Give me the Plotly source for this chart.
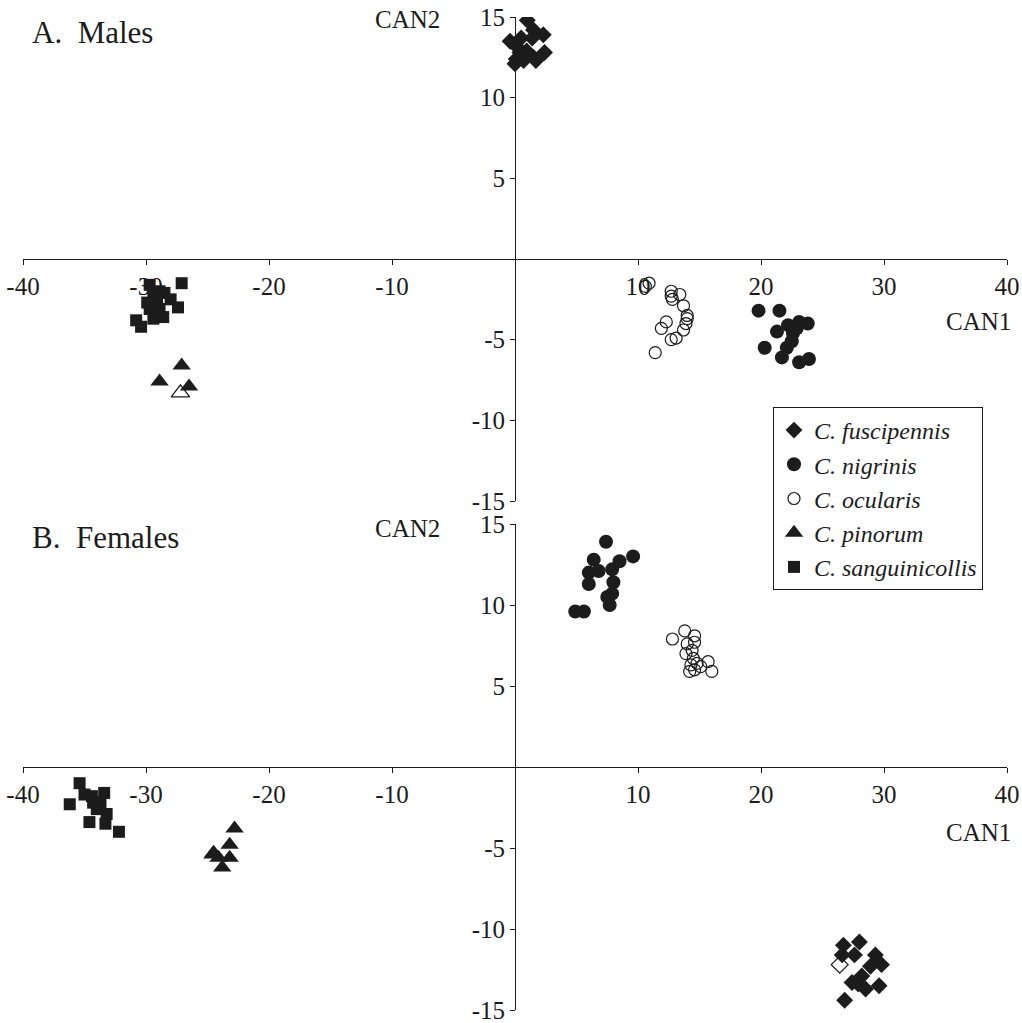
import plotly.graph_objects as go

# ---------------- DATA ----------------
species = ["C. fuscipennis", "C. nigrinis", "C. ocularis", "C. pinorum", "C. sanguinicollis"]

# Males (panel A)
m_fusc_x = [1.0, -0.4, 0.5, 1.5, 2.3, 1.4, 0.1, 0.4, 0.95, 2.4, 0.1, 0.7, 1.5, 0.0, 1.7]
m_fusc_y = [14.8, 13.5, 13.7, 14.2, 13.9, 13.7, 13.2, 12.8, 12.9, 12.8, 12.4, 12.3, 12.5, 12.1, 12.3]
m_nigr_x = [19.8, 21.5, 22.2, 23.1, 23.8, 21.3, 22.6, 22.5, 22.1, 20.3, 21.7, 23.1, 23.9, 22.9]
m_nigr_y = [-3.2, -3.2, -4.1, -3.9, -4.0, -4.5, -4.6, -5.1, -5.5, -5.5, -6.1, -6.4, -6.2, -4.3]
m_ocul_x = [10.9, 10.6, 12.7, 13.4, 12.7, 12.8, 13.7, 14.0, 14.0, 13.9, 12.3, 11.9, 13.7, 12.7, 13.1, 11.4]
m_ocul_y = [-1.5, -1.7, -2.0, -2.2, -2.3, -2.5, -2.9, -3.5, -3.7, -4.0, -3.9, -4.3, -4.4, -5.0, -4.9, -5.8]
m_pino_x = [-27.1, -28.9, -26.5]
m_pino_y = [-6.6, -7.6, -7.9]
m_pino_open_x = [-27.2]
m_pino_open_y = [-8.3]
m_sang_x = [-29.7, -28.9, -28.5, -29.4, -29.9, -29.1, -28.0, -27.4, -29.7, -28.9, -28.6, -29.4, -30.8, -30.4, -27.1]
m_sang_y = [-1.6, -2.0, -2.1, -2.3, -2.7, -2.6, -2.5, -3.0, -3.1, -3.1, -3.6, -3.7, -3.8, -4.2, -1.5]

# Females (panel B)
f_fusc_x = [26.7, 28.0, 26.6, 27.6, 29.3, 29.8, 28.9, 27.4, 27.9, 28.5, 29.6, 26.8, 28.2]
f_fusc_y = [-11.0, -10.8, -11.6, -11.6, -11.6, -12.2, -12.3, -13.3, -13.4, -13.7, -13.5, -14.4, -12.9]
f_fusc_open_x = [26.4]
f_fusc_open_y = [-12.2]
f_nigr_x = [7.4, 6.4, 9.6, 8.5, 6.8, 6.0, 7.9, 8.0, 6.0, 7.9, 7.5, 7.7, 4.9, 5.6]
f_nigr_y = [13.9, 12.8, 13.0, 12.7, 12.1, 12.0, 12.2, 11.4, 11.3, 10.7, 10.5, 10.0, 9.6, 9.6]
f_ocul_x = [12.8, 13.8, 14.6, 14.0, 14.6, 14.4, 13.9, 15.7, 14.3, 14.8, 14.2, 14.6, 15.1, 16.0, 14.5]
f_ocul_y = [7.9, 8.4, 8.1, 7.6, 7.7, 7.2, 7.0, 6.5, 6.3, 6.4, 5.9, 6.0, 6.2, 5.9, 6.7]
f_pino_x = [-22.8, -23.2, -24.5, -24.6, -23.8, -23.2, -24.1]
f_pino_y = [-3.8, -4.8, -5.3, -5.4, -6.2, -5.6, -5.6]
f_sang_x = [-35.4, -36.2, -35.0, -34.4, -33.4, -34.3, -33.7, -33.2, -34.6, -33.3, -32.2, -34.0]
f_sang_y = [-1.0, -2.3, -1.7, -1.8, -1.6, -2.2, -2.2, -2.9, -3.4, -3.5, -4.0, -2.6]

x_ticks = [-40, -30, -20, -10, 0, 10, 20, 30, 40]
x_ticktext = ["-40", "-30", "-20", "-10", "", "10", "20", "30", "40"]
y_ticks = [-15, -10, -5, 0, 5, 10, 15]
y_ticktext = ["-15", "-10", "-5", "", "5", "10", "15"]

# ---------------- STYLE ----------------
INK = "#1c1c1c"
FONT = "Liberation Serif, Times New Roman, serif"
W, H = 1022, 1023

styles = {
    "C. fuscipennis": dict(symbol="diamond", size=13, color=INK),
    "C. nigrinis": dict(symbol="circle", size=14, color=INK),
    "C. ocularis": dict(symbol="circle-open", size=12, color=INK, line=dict(width=1.2, color=INK)),
    "C. pinorum": dict(symbol="triangle-up", size=16, color=INK),
    "C. sanguinicollis": dict(symbol="square", size=12, color=INK),
}

fig = go.Figure()

def add(x, y, name, xa, ya, legend):
    fig.add_trace(go.Scatter(
        x=x, y=y, mode="markers", name="<i>" + name + "</i>",
        legendgroup=name, showlegend=legend,
        marker=styles[name], xaxis=xa, yaxis=ya,
    ))

male = [(m_fusc_x, m_fusc_y), (m_nigr_x, m_nigr_y), (m_ocul_x, m_ocul_y), (m_pino_x, m_pino_y), (m_sang_x, m_sang_y)]
female = [(f_fusc_x, f_fusc_y), (f_nigr_x, f_nigr_y), (f_ocul_x, f_ocul_y), (f_pino_x, f_pino_y), (f_sang_x, f_sang_y)]
for sp, (x, y) in zip(species, male):
    add(x, y, sp, "x", "y", True)
for sp, (x, y) in zip(species, female):
    add(x, y, sp, "x2", "y2", False)

# hollow (misclassified) individuals
fig.add_trace(go.Scatter(x=m_pino_open_x, y=m_pino_open_y, mode="markers", showlegend=False,
                         marker=dict(symbol="triangle-up-open", size=16, color=INK, line=dict(width=1.3)),
                         xaxis="x", yaxis="y"))
fig.add_trace(go.Scatter(x=f_fusc_open_x, y=f_fusc_open_y, mode="markers", showlegend=False,
                         marker=dict(symbol="diamond-open", size=13, color=INK, line=dict(width=1.3)),
                         xaxis="x2", yaxis="y2"))

# pixel geometry
xd = [23 / W, 1007 / W]
top_d = [1 - 501 / H, 1 - 17 / H]
bot_d = [1 - 1010 / H, 1 - 524 / H]
x_mid = (xd[0] + xd[1]) / 2

tickfont = dict(family=FONT, size=25, color=INK)

def xaxis(dom_y):
    return dict(domain=xd, range=[-40, 40], anchor="free", position=(dom_y[0] + dom_y[1]) / 2,
                tickvals=x_ticks, ticktext=x_ticktext, ticks="outside", ticklen=5, tickcolor=INK,
                showline=True, linecolor=INK, linewidth=1, showgrid=False, zeroline=False,
                tickfont=tickfont, fixedrange=True, automargin=False, ticklabeloverflow="allow")

def yaxis(dom):
    return dict(domain=dom, range=[-15, 15], anchor="free", position=x_mid,
                tickvals=y_ticks, ticktext=y_ticktext, ticks="outside", ticklen=5, tickcolor=INK,
                showline=True, linecolor=INK, linewidth=1, showgrid=False, zeroline=False,
                tickfont=tickfont, fixedrange=True, automargin=False, ticklabeloverflow="allow")

fig.update_layout(
    width=W, height=H, margin=dict(l=0, r=0, t=0, b=0, autoexpand=False),
    paper_bgcolor="white", plot_bgcolor="white",
    xaxis=xaxis(top_d), yaxis=yaxis(top_d),
    xaxis2=xaxis(bot_d), yaxis2=yaxis(bot_d),
    showlegend=True,
    legend=dict(x=773 / W, y=1 - 407 / H, xanchor="left", yanchor="top",
                bordercolor=INK, borderwidth=1, bgcolor="white",
                font=dict(family=FONT, size=24, color=INK), tracegroupgap=0,
                entrywidth=226, entrywidthmode="pixels"),
    font=dict(family=FONT, color=INK),
)

ann = [
    dict(x=30, y=33, text="A.  Males", xanchor="left", size=31),
    dict(x=30, y=537, text="B.  Females", xanchor="left", size=31),
    dict(x=442, y=20, text="CAN2", xanchor="right", size=25),
    dict(x=442, y=528, text="CAN2", xanchor="right", size=25),
    dict(x=1013, y=322, text="CAN1", xanchor="right", size=25),
    dict(x=1013, y=832, text="CAN1", xanchor="right", size=25),
]
for a in ann:
    fig.add_annotation(x=a["x"] / W, y=1 - a["y"] / H, xref="paper", yref="paper", text=a["text"],
                       xanchor=a["xanchor"], yanchor="middle", showarrow=False,
                       font=dict(family=FONT, size=a["size"], color=INK))

fig.write_html("out.html", config={"displayModeBar": False},
               post_script="document.body.style.margin='0';document.body.style.overflow='hidden';")
